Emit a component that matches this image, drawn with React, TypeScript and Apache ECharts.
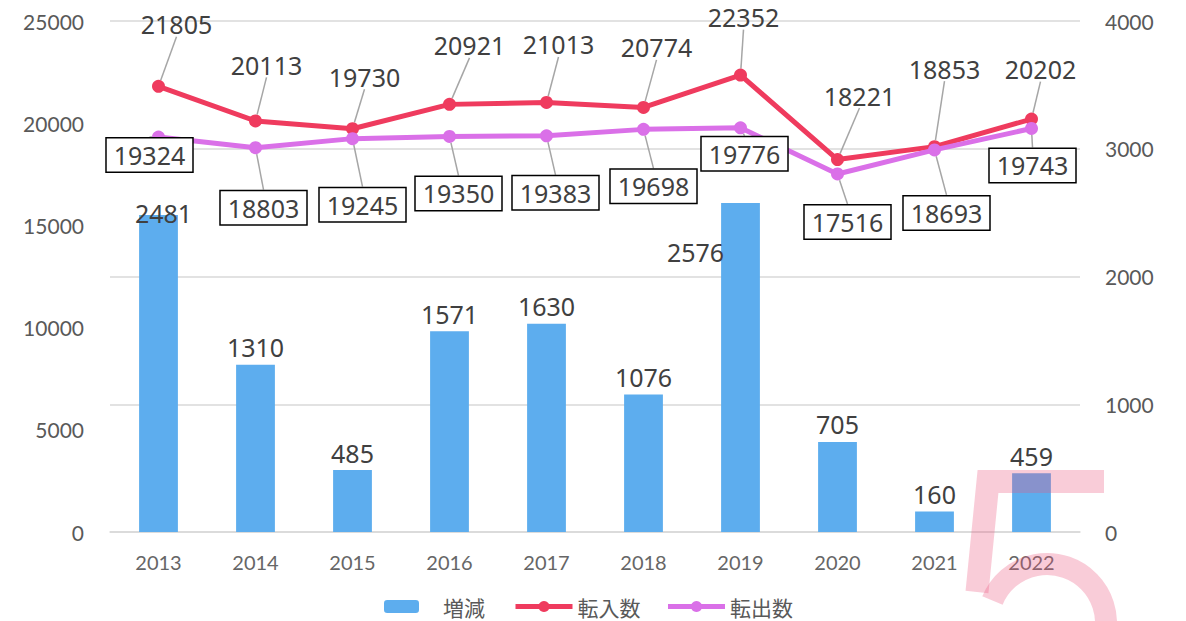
import React, { useEffect, useRef } from "react";
import * as echarts from "echarts";

const years = ["2013", "2014", "2015", "2016", "2017", "2018", "2019", "2020", "2021", "2022"];
const changeValues = [2481, 1310, 485, 1571, 1630, 1076, 2576, 705, 160, 459];
const moveInValues = [21805, 20113, 19730, 20921, 21013, 20774, 22352, 18221, 18853, 20202];
const moveOutValues = [19324, 18803, 19245, 19350, 19383, 19698, 19776, 17516, 18693, 19743];
const leftTicks = { min: 0, max: 25000, interval: 5000 };
const rightTicks = { min: 0, max: 4000, interval: 1000 };

// label offsets (style only)
const inLabelOffsets = [[18, -62], [11, -56], [12, -52], [20, -59], [12, -58], [13, -60], [3, -58], [22, -64], [10, -78], [9, -50]];
const outLabelOffsets = [[-9, 18], [8, 60], [10, 66], [9, 57], [9, 57], [10, 57], [4, 26], [10, 48], [12, 63], [1, 37]];
const barLabelOffsets = [[5, 15], [0, 0], [0, 0], [0, 0], [0, 0], [0, 0], [-45, 67], [0, 0], [0, 0], [0, 0]];

const BAR = "#5DADEE";
const RED = "#EF3B5E";
const VIOLET = "#DA70E8";
const LABEL = "#404040";

export default function App() {
  const ref = useRef<HTMLDivElement>(null);
  useEffect(() => {
    if (!ref.current) return;
    const chart = echarts.init(ref.current, null, { renderer: "svg" });
    const labelFont = { fontFamily: "Noto Sans", fontSize: 25, color: LABEL };
    const plain = (v: number) => String(v);
    const legendText = { fontSize: 21, color: "#595959", fontFamily: "Noto Sans CJK JP", lineHeight: 21 };
    const option: any = {
      animation: false,
      backgroundColor: "#fff",
      grid: { left: 110, right: 106, top: 21, bottom: 89, containLabel: false },
      legend: [
        {
          data: ["増減"],
          left: 384,
          top: 596,
          padding: 0,
          itemWidth: 35,
          itemHeight: 13,
          textStyle: { ...legendText, padding: [0, 0, 0, 19] },
        },
        {
          data: ["転入数", "転出数"],
          left: 513,
          top: 596,
          padding: 0,
          itemWidth: 57,
          itemHeight: 14,
          itemGap: 25,
          lineStyle: { width: 5 },
          textStyle: legendText,
        },
      ],
      xAxis: {
        type: "category",
        data: years,
        axisLine: { lineStyle: { color: "#D9D9D9", width: 1.5 } },
        axisTick: { show: false },
        axisLabel: { color: "#666", fontSize: 20, fontFamily: "Lato", margin: 20 },
      },
      yAxis: [
        {
          type: "value",
          min: leftTicks.min,
          max: leftTicks.max,
          interval: leftTicks.interval,
          splitLine: { show: false },
          axisLine: { show: false },
          axisTick: { show: false },
          axisLabel: { color: "#595959", fontSize: 21, fontFamily: "Lato", margin: 26, formatter: plain },
        },
        {
          type: "value",
          min: rightTicks.min,
          max: rightTicks.max,
          interval: rightTicks.interval,
          splitLine: { show: true, lineStyle: { color: "#D9D9D9", width: 1.5 } },
          axisLine: { show: false },
          axisTick: { show: false },
          axisLabel: { color: "#595959", fontSize: 21, fontFamily: "Lato", margin: 25, formatter: plain },
        },
      ],
      series: [
        {
          name: "増減",
          type: "bar",
          yAxisIndex: 1,
          data: changeValues,
          barWidth: "40%",
          itemStyle: { color: BAR },
          label: { show: true, position: "top", distance: 5, ...labelFont },
          labelLayout: (p: any) => ({ dx: barLabelOffsets[p.dataIndex][0], dy: barLabelOffsets[p.dataIndex][1] }),
          z: 2,
        },
        {
          name: "転入数",
          type: "line",
          yAxisIndex: 0,
          data: moveInValues,
          symbol: "circle",
          symbolSize: 13,
          lineStyle: { color: RED, width: 5 },
          itemStyle: { color: RED },
          label: { show: true, position: "inside", ...labelFont },
          labelLine: { show: true, lineStyle: { color: "#A6A6A6", width: 1.5 } },
          labelLayout: (p: any) => ({ dx: inLabelOffsets[p.dataIndex][0], dy: inLabelOffsets[p.dataIndex][1] }),
          z: 3,
        },
        {
          name: "転出数",
          type: "line",
          yAxisIndex: 0,
          data: moveOutValues,
          symbol: "circle",
          symbolSize: 13,
          lineStyle: { color: VIOLET, width: 5 },
          itemStyle: { color: VIOLET },
          label: {
            show: true,
            position: "inside",
            ...labelFont,
            backgroundColor: "#fff",
            borderColor: "#000",
            borderWidth: 1.5,
            padding: [5, 7, 3, 7],
          },
          labelLine: { show: true, lineStyle: { color: "#A6A6A6", width: 1.5 } },
          labelLayout: (p: any) => ({ dx: outLabelOffsets[p.dataIndex][0], dy: outLabelOffsets[p.dataIndex][1] }),
          z: 4,
        },
      ],
      graphic: [
        {
          type: "polyline",
          z: 100,
          silent: true,
          shape: { points: [[1104, 481.5], [988, 481.5], [977, 592]] },
          style: { stroke: "rgba(236,87,127,0.3)", lineWidth: 23, fill: "none", lineJoin: "miter", lineCap: "butt" },
        },
        {
          type: "arc",
          z: 100,
          silent: true,
          shape: { cx: 1047, cy: 623, r: 59, startAngle: -2.75, endAngle: 1.2, clockwise: true },
          style: { stroke: "rgba(236,87,127,0.3)", lineWidth: 22, fill: "none", lineCap: "butt" },
        },
      ],
    };
    chart.setOption(option);
    return () => chart.dispose();
  }, []);
  return <div ref={ref} style={{ width: 1186, height: 621, position: "absolute", left: 0, top: 0 }} />;
}
